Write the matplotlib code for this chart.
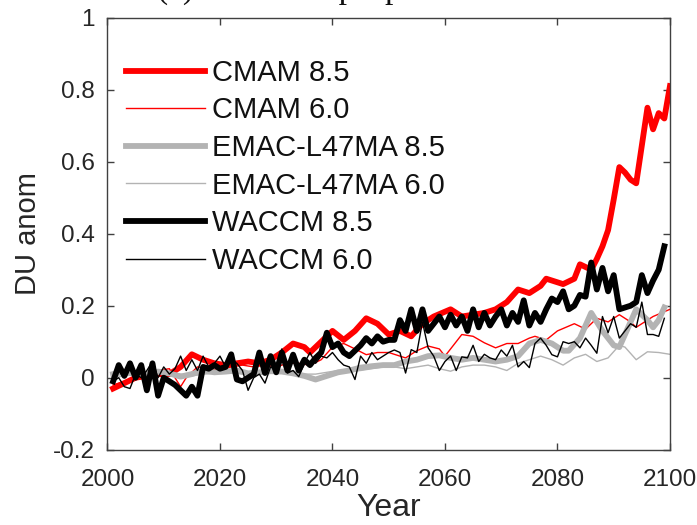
import matplotlib
matplotlib.use("Agg")
import matplotlib.pyplot as plt
import numpy as np

# ---------------- data ----------------
cmam85_years = [2001, 2003, 2005, 2007, 2009, 2011, 2013, 2015, 2017, 2019, 2021, 2023,
                2025, 2027, 2029, 2031, 2033, 2035, 2036, 2038, 2040, 2042, 2044, 2046,
                2048, 2050, 2052, 2054, 2056, 2058, 2061, 2063, 2065, 2067, 2069, 2071,
                2073, 2075, 2077, 2078, 2081, 2083, 2084, 2086, 2087, 2088, 2089, 2090,
                2091, 2092, 2093, 2094, 2096, 2097, 2098, 2099, 2100]
cmam85 = [-0.03, -0.015, 0.0, 0.005, 0.01, 0.01, 0.03, 0.065, 0.05, 0.04, 0.035, 0.04,
          0.045, 0.04, 0.05, 0.07, 0.095, 0.085, 0.07, 0.1, 0.13, 0.105, 0.13, 0.165,
          0.15, 0.12, 0.13, 0.115, 0.15, 0.17, 0.19, 0.17, 0.175, 0.18, 0.19, 0.21,
          0.245, 0.235, 0.255, 0.275, 0.26, 0.275, 0.315, 0.3, 0.33, 0.365, 0.41, 0.495,
          0.585, 0.57, 0.55, 0.54, 0.75, 0.69, 0.735, 0.72, 0.81]

cmam60_years = [2001, 2003, 2005, 2007, 2009, 2011, 2012, 2013, 2014, 2016, 2018, 2020,
                2022, 2024, 2026, 2028, 2030, 2032, 2034, 2036, 2038, 2040, 2042, 2044,
                2046, 2048, 2050, 2052, 2053, 2055, 2057, 2059, 2060, 2062, 2063, 2065,
                2067, 2069, 2071, 2073, 2075, 2076, 2078, 2080, 2083, 2085, 2087, 2089,
                2091, 2093, 2094, 2097, 2100]
cmam60 = [-0.02, -0.01, 0.0, 0.005, 0.02, 0.025, 0.0, -0.025, 0.0, 0.03, 0.025, 0.02,
          0.03, 0.035, 0.03, 0.035, 0.03, 0.04, 0.04, 0.035, 0.05, 0.085, 0.095, 0.08,
          0.064, 0.07, 0.07, 0.06, 0.055, 0.075, 0.088, 0.08, 0.06, 0.1, 0.12, 0.115,
          0.097, 0.083, 0.095, 0.095, 0.11, 0.115, 0.105, 0.13, 0.15, 0.135, 0.165, 0.155,
          0.175, 0.155, 0.14, 0.17, 0.19]

emac85_years = [2001, 2003, 2005, 2007, 2009, 2011, 2013, 2015, 2017, 2019, 2021, 2023,
                2025, 2027, 2029, 2031, 2033, 2035, 2037, 2039, 2041, 2043, 2045, 2047,
                2049, 2051, 2053, 2055, 2057, 2059, 2061, 2063, 2065, 2067, 2069, 2071,
                2073, 2075, 2077, 2079, 2081, 2082, 2084, 2086, 2088, 2090, 2091, 2092,
                2094, 2096, 2097, 2098, 2099]
emac85 = [0.01, 0.017, 0.01, 0.01, 0.017, 0.012, 0.003, 0.01, 0.02, 0.015, 0.017, 0.02,
          0.012, 0.015, 0.018, 0.017, 0.012, 0.005, -0.005, 0.005, 0.015, 0.02, 0.028, 0.032,
          0.035, 0.035, 0.045, 0.05, 0.06, 0.062, 0.055, 0.05, 0.055, 0.05, 0.045, 0.05,
          0.06, 0.095, 0.105, 0.095, 0.075, 0.075, 0.11, 0.18, 0.13, 0.09, 0.085, 0.12,
          0.19, 0.16, 0.14, 0.16, 0.195]

emac60_years = [2001, 2003, 2005, 2007, 2009, 2011, 2013, 2015, 2017, 2019, 2021, 2023,
                2025, 2027, 2029, 2031, 2033, 2035, 2037, 2039, 2041, 2043, 2045, 2047,
                2049, 2051, 2053, 2055, 2057, 2059, 2061, 2063, 2065, 2067, 2069, 2071,
                2073, 2075, 2077, 2079, 2081, 2083, 2085, 2087, 2089, 2091, 2092, 2094,
                2096, 2098, 2100]
emac60 = [0.0, 0.005, 0.01, 0.005, 0.01, 0.015, 0.01, 0.005, 0.01, 0.012, 0.015, 0.012,
          0.01, 0.015, 0.02, 0.02, 0.015, 0.01, 0.01, 0.015, 0.02, 0.018, 0.02, 0.025,
          0.03, 0.03, 0.025, 0.03, 0.035, 0.025, 0.018, 0.03, 0.035, 0.035, 0.03, 0.02,
          0.04, 0.05, 0.06, 0.05, 0.035, 0.055, 0.065, 0.045, 0.055, 0.09, 0.085, 0.05,
          0.072, 0.07, 0.065]

waccm_years = list(range(2001, 2100))
waccm85 = [-0.01, 0.035, 0.005, 0.04, 0.0, 0.035, -0.035, 0.04, -0.05, 0.0,
           -0.01, -0.02, -0.035, -0.05, -0.025, -0.05, 0.03, 0.025, 0.035, 0.025,
           0.03, 0.065, -0.005, -0.01, 0.0, 0.01, 0.07, 0.013, 0.06, 0.015,
           0.07, 0.02, 0.064, 0.02, 0.05, 0.035, 0.055, 0.07, 0.125, 0.085,
           0.095, 0.07, 0.06, 0.075, 0.09, 0.11, 0.095, 0.115, 0.1, 0.105,
           0.105, 0.16, 0.13, 0.19, 0.13, 0.19, 0.13, 0.15, 0.17, 0.14,
           0.175, 0.145, 0.17, 0.13, 0.19, 0.14, 0.18, 0.145, 0.17, 0.19,
           0.145, 0.18, 0.155, 0.215, 0.145, 0.18, 0.155, 0.19, 0.22, 0.21,
           0.24, 0.19, 0.2, 0.23, 0.225, 0.32, 0.245, 0.305, 0.24, 0.285,
           0.19, 0.195, 0.2, 0.21, 0.285, 0.235, 0.27, 0.3, 0.365]
waccm60 = [-0.01, 0.0, -0.025, -0.03, 0.01, 0.0, 0.02, 0.045, 0.0, 0.03,
           0.01, 0.025, 0.06, 0.02, 0.05, 0.02, 0.06, 0.03, 0.04, 0.06,
           0.03, 0.05, 0.04, 0.02, -0.035, 0.0, 0.01, -0.015, 0.03, 0.02,
           0.08, 0.013, 0.02, 0.003, 0.04, 0.07, 0.04, 0.06, 0.055, 0.07,
           0.05, 0.035, 0.03, -0.005, 0.06, 0.04, 0.07, 0.05, 0.06, 0.07,
           0.077, 0.07, 0.013, 0.078, 0.07, 0.155, 0.083, 0.06, 0.02, 0.045,
           0.06, 0.02, 0.058, 0.055, 0.09, 0.045, 0.065, 0.055, 0.05, 0.077,
           0.06, 0.09, 0.03, 0.045, 0.028, 0.095, 0.11, 0.09, 0.064, 0.058,
           0.1, 0.095, 0.1, 0.083, 0.11, 0.09, 0.068, 0.17, 0.125, 0.17,
           0.11, 0.13, 0.15, 0.14, 0.21, 0.12, 0.12, 0.115, 0.165]

labels = ["CMAM 8.5", "CMAM 6.0", "EMAC-L47MA 8.5", "EMAC-L47MA 6.0",
          "WACCM 8.5", "WACCM 6.0"]
xticks = [2000, 2020, 2040, 2060, 2080, 2100]
yticks = [-0.2, 0, 0.2, 0.4, 0.6, 0.8, 1]
yticklabels = ["-0.2", "0", "0.2", "0.4", "0.6", "0.8", "1"]

# ---------------- figure ----------------
plt.rcParams['font.family'] = ['Liberation Sans', 'DejaVu Sans']
fig = plt.figure(figsize=(6.97, 5.25), dpi=100)
ax = fig.add_axes([0.1542, 0.1434, 0.8070, 0.8229])

red = '#ff0000'
gray = '#b3b3b3'
thick = 4.2
thin = 1.0
ax.plot(cmam85_years, cmam85, color=red, lw=thick, label=labels[0])
ax.plot(cmam60_years, cmam60, color=red, lw=thin, label=labels[1])
ax.plot(emac85_years, emac85, color=gray, lw=thick, label=labels[2])
ax.plot(emac60_years, emac60, color=gray, lw=thin, label=labels[3])
ax.plot(waccm_years, waccm85, color='black', lw=thick, label=labels[4])
ax.plot(waccm_years, waccm60, color='black', lw=thin, label=labels[5])

ax.set_xlim(2000, 2100)
ax.set_ylim(-0.2, 1)
ax.set_xticks(xticks)
ax.set_yticks(yticks)
ax.set_yticklabels(yticklabels)
ax.tick_params(direction='in', top=True, right=True, length=5, width=1,
               color='#404040', labelsize=17.5, labelcolor='#262626')
ax.tick_params(axis='y', pad=9)
ax.tick_params(axis='x', pad=14)
for s in ax.spines.values():
    s.set_color('#404040')
    s.set_linewidth(1.0)

ax.set_xlabel("Year", fontsize=23, color='#262626', labelpad=1)
ax.set_ylabel("DU anom", fontsize=21, color='#262626', labelpad=8)

leg = ax.legend(loc='upper left', bbox_to_anchor=(0.033, 0.905), frameon=False,
                fontsize=21, handlelength=2.7, handletextpad=0.25,
                labelspacing=0.33, borderpad=0, borderaxespad=0)
for t in leg.get_texts():
    t.set_color('#111111')

fig.text(157 / 697, 1 + 2 / 525, "(a) Global troposphere", family='Liberation Serif',
         fontsize=24, ha='left', va='baseline', color='#111111')

fig.savefig("out.png", dpi=100)
